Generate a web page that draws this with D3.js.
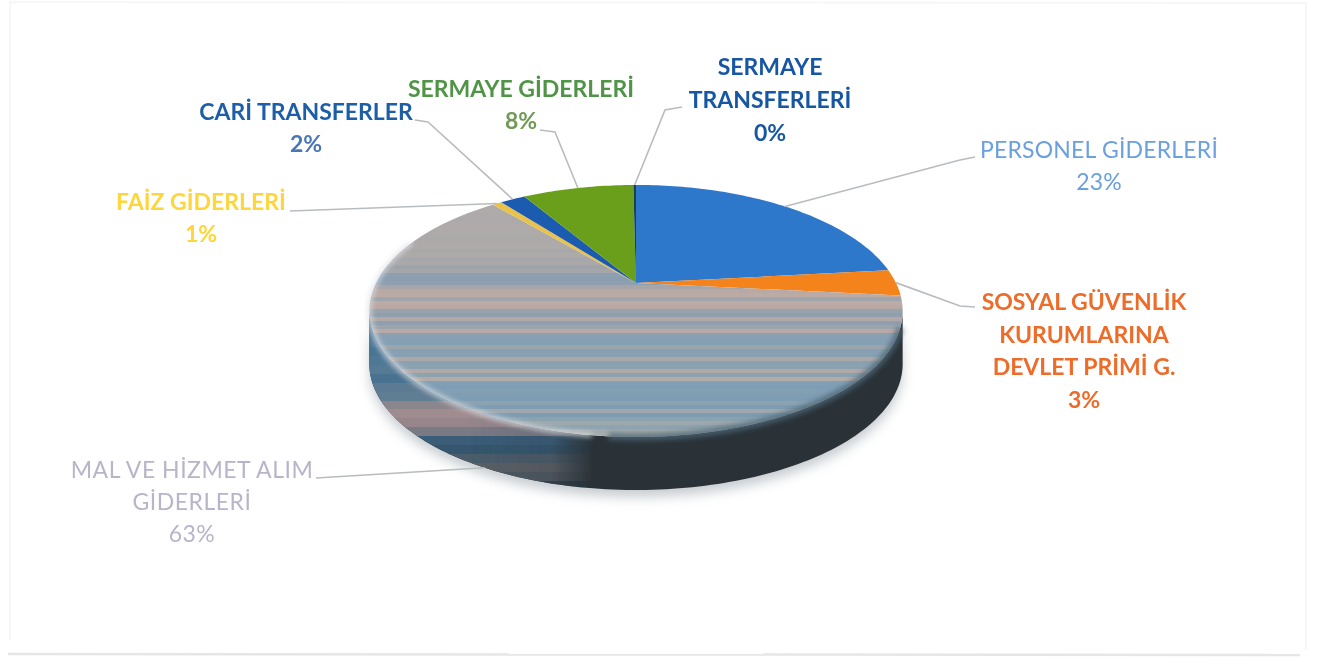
<!DOCTYPE html>
<html>
<head>
<meta charset="utf-8">
<script src="https://cdn.jsdelivr.net/npm/d3@7"></script>
<style>
  html, body { margin: 0; padding: 0; background: #fff; }
  text { font-family: Lato, "Open Sans", sans-serif; }
</style>
</head>
<body>
<div id="chart"></div>
<script>
  const categories = ['PERSONEL GİDERLERİ', 'SOSYAL GÜVENLİK|KURUMLARINA|DEVLET PRİMİ G.', 'MAL VE HİZMET ALIM|GİDERLERİ', 'FAİZ GİDERLERİ', 'CARİ TRANSFERLER', 'SERMAYE GİDERLERİ', 'SERMAYE|TRANSFERLERİ'];
  const values = [23.4, 3.4, 62.6, 0.7, 1.9, 8.4, 0.2];
  const sliceColors = ['#2f78cc', '#f5831a', 'url(#malTop)', '#e8c24a', '#1f5bb0', '#6a9f1e', '#163f5c'];
  const labelColors = ['#6a9fe0', '#ee6c2a', '#b7b5c9', '#fdd63a', '#1f5ea8', '#4f9447', '#1656a3'];
  const percentColors = ['#6a9fe0', '#ee6c2a', '#b7b5c9', '#fdd63a', '#4a77b5', '#6f9a55', '#1656a3'];
  const labelWeights = [400, 700, 400, 700, 700, 700, 700];
  const labelTracking = [0.2, 0, 0.5, 0, 0, 0, 0];

  // where each label block sits (centre x, first baseline y) and where its leader starts
  const labelLayout = [
    {x: 1099, y: 158, lead: [[975, 157], [960, 160]]},
    {x: 1084, y: 310, lead: [[975, 307], [960, 306]]},
    {x: 192, y: 478, lead: [[316, 478]], wall: true},
    {x: 201, y: 210, lead: [[290, 211]]},
    {x: 306, y: 120, lead: [[415, 120], [428, 122]]},
    {x: 521, y: 97, lead: [[540, 130], [555, 132]]},
    {x: 770, y: 75, lead: [[682, 107], [665, 110]]}
  ];

  // stripes of the scanned grey slice, top to bottom, about 4px each
  const stripeColors = [
    '#aeaaaa', '#aeaaaa', '#b0abaa', '#aeaaaa', '#aca9aa', '#aeaaaa', '#b0abaa', '#aeaaaa', '#aca9aa', '#aeaaaa', '#b0abaa',
    '#aeaaaa', '#adaaaa', '#aca9aa', '#afaaaa', '#aeaaaa', '#a9a8a9', '#aeaaaa', '#a6a7aa', '#aaa8a9', '#9fa4ab', '#a5a6aa',
    '#8d9fb0', '#8b9eb0', '#8d9fb0', '#a8a5a8', '#b9a9a6', '#bcaaa5', '#9fa5ab', '#bcaaa5', '#b9a9a6', '#98a2ac', '#8f9fae',
    '#b3a8a8', '#8ea0af', '#9da4ab', '#b9a9a6', '#8aa0b2', '#87a0b4', '#86a0b3', '#9ba5ad', '#88a0b2', '#87a0b3', '#aba8aa',
    '#8aa1b2', '#8ca2b1', '#b0a9a8', '#8ca2b1', '#b4aaa7', '#82a0b5', '#7f9eb5', '#829fb4', '#7f9db3', '#7e9cb3', '#8ba2b0',
    '#7e9cb2', '#9ea8ae', '#7e9cb1', '#8ba2af', '#9ca8ad', '#8ea4af', '#a2abad', '#a6acad'
  ];
  // bands of the left part of the wall, top to bottom
  const wallBands = ['#4f7a98', '#4a7593', '#50799a', '#4a7593', '#4f7895', '#557a94', '#4a7290', '#5b7a92', '#5f7d93', '#8b858c', '#a08b8e', '#96868c', '#7a7a85', '#3a5d78', '#34566e', '#4b5c6a', '#5a5f66', '#4f5862', '#33414c'];
  const wallFade = [[0, 1], [0.18, 1], [0.34, 0.85], [0.42, 0]];

  const width = 1318;
  const height = 659;
  const apexX = 636;
  const apexY = 283;
  const depth = 53;
  const spread = 260;
  const tilt = 119.8;
  const persp = 0.222;

  let svg = d3.select('#chart')
  .append('svg')
  .attr('width', width)
  .attr('height', height)
  .style('display', 'block');

  let defs = svg.append('defs');

  defs.append('filter').attr('id', 'soft').append('feGaussianBlur').attr('stdDeviation', 0.7);
  defs.append('filter').attr('id', 'textSoft').append('feGaussianBlur').attr('stdDeviation', 0.35);
  defs.append('filter').attr('id', 'shadow')
  .attr('x', '-10%').attr('y', '-10%').attr('width', '120%').attr('height', '130%')
  .append('feGaussianBlur').attr('stdDeviation', 6);
  defs.append('filter').attr('id', 'bevel')
  .attr('x', '-10%').attr('y', '-20%').attr('width', '120%').attr('height', '140%')
  .append('feGaussianBlur').attr('stdDeviation', 2.4);

  function stripes(id, colors, x1, y1, x2, y2){
    let grad = defs.append('linearGradient')
    .attr('id', id)
    .attr('gradientUnits', 'userSpaceOnUse')
    .attr('x1', x1).attr('y1', y1).attr('x2', x2).attr('y2', y2);
    colors.forEach((c, i) => {
      grad.append('stop').attr('offset', i / colors.length).attr('stop-color', c);
      grad.append('stop').attr('offset', (i + 1) / colors.length).attr('stop-color', c);
    });
  }

  stripes('malTop', stripeColors, 0, 185, 0, 437);
  stripes('wallBand', wallBands, 0, 320, 0, 490);

  let fadeGrad = defs.append('linearGradient')
  .attr('id', 'wallFadeGrad')
  .attr('gradientUnits', 'userSpaceOnUse')
  .attr('x1', 372).attr('y1', 0).attr('x2', 902).attr('y2', 0);
  wallFade.forEach((d) => {
    fadeGrad.append('stop').attr('offset', d[0]).attr('stop-color', '#fff').attr('stop-opacity', d[1]);
  });
  defs.append('mask').attr('id', 'wallMask')
  .attr('maskUnits', 'userSpaceOnUse')
  .attr('x', 0).attr('y', 0).attr('width', width).attr('height', height)
  .append('rect')
  .attr('width', width).attr('height', height)
  .attr('fill', 'url(#wallFadeGrad)');

  // faint edge of the scanned page
  let frame = d3.path();
  frame.moveTo(10, 640);
  frame.lineTo(10, 2);
  frame.lineTo(1306, 3);
  frame.lineTo(1306, 650);
  svg.append('path').attr('d', frame.toString()).attr('fill', 'none').attr('stroke', '#f7f7f7').attr('stroke-width', 2);
  svg.append('path').attr('d', 'M8,654L1300,655').attr('fill', 'none').attr('stroke', '#e6e6e6').attr('stroke-width', 2.5);

  // disc with a perspective: far edge squeezed, near edge stretched
  function project(angle, r){
    let u = Math.sin(angle) * r;
    let v = -Math.cos(angle) * r;
    let w = 1 - persp * v;
    return [apexX + spread * u / w, apexY + tilt * v / w];
  }

  function rim(a0, a1){
    let n = Math.max(2, Math.ceil(Math.abs(a1 - a0) / 0.02));
    return d3.range(n + 1).map((i) => project(a0 + (a1 - a0) * i / n, 1));
  }

  let line = d3.line();
  let pie = d3.pie().sort(null).value((d) => d);
  let arcs = pie(values);

  // lower edge of the disc dropped by the wall depth
  let outline = rim(0, 2 * Math.PI);
  let rightIdx = d3.maxIndex(outline, (p) => p[0]);
  let leftIdx = d3.minIndex(outline, (p) => p[0]);
  let frontEdge = outline.slice(rightIdx, leftIdx + 1);
  let wallPts = frontEdge.concat(frontEdge.slice().reverse().map((p) => [p[0], p[1] + depth]));

  svg.append('path')
  .attr('d', line(wallPts) + 'Z')
  .attr('transform', 'translate(0,7)')
  .attr('fill', '#9aa3aa')
  .attr('opacity', 0.55)
  .attr('filter', 'url(#shadow)');

  let pieGroup = svg.append('g').attr('filter', 'url(#soft)');

  pieGroup.append('path')
  .attr('d', line(wallPts) + 'Z')
  .attr('fill', '#2a3137');

  pieGroup.append('path')
  .attr('d', line(wallPts) + 'Z')
  .attr('fill', 'url(#wallBand)')
  .attr('mask', 'url(#wallMask)');

  pieGroup.selectAll('.slice')
  .data(arcs)
  .enter().append('path')
  .attr('class', 'slice')
  .attr('d', (d) => line([[apexX, apexY]].concat(rim(d.startAngle, d.endAngle))) + 'Z')
  .attr('fill', (d, i) => sliceColors[i]);

  let malArc = arcs[2];

  // soft slate shoulder between the near rim and the dark wall
  svg.append('path')
  .attr('d', line(rim(malArc.startAngle + 0.25, malArc.startAngle + 1.55)))
  .attr('fill', 'none')
  .attr('stroke', '#4d6675')
  .attr('stroke-width', 7)
  .attr('opacity', 0.8)
  .attr('filter', 'url(#bevel)');

  // light bevel along the near rim of the big slice
  svg.append('path')
  .attr('d', line(rim(malArc.startAngle + 1.6, malArc.endAngle - 0.5)))
  .attr('fill', 'none')
  .attr('stroke', '#dde1e6')
  .attr('stroke-width', 4)
  .attr('opacity', 0.85)
  .attr('filter', 'url(#bevel)');

  // leaders run from the label to the rim point at the slice's middle angle
  let leaders = svg.append('g').attr('filter', 'url(#textSoft)');
  leaders.selectAll('path')
  .data(arcs)
  .enter().append('path')
  .attr('d', (d, i) => {
    let mid = (d.startAngle + d.endAngle) / 2;
    let p = project(mid, 1);
    if (labelLayout[i].wall) p = [p[0], p[1] + depth];
    return line(labelLayout[i].lead.concat([p]));
  })
  .attr('fill', 'none')
  .attr('stroke', '#b9bcbf')
  .attr('stroke-width', 1.6);

  let labels = svg.append('g').attr('filter', 'url(#textSoft)');
  categories.forEach((name, i) => {
    let rows = name.split('|');
    let spacing = i === 1 ? 32.5 : (i === 6 ? 33 : 32);
    let block = labels.append('text')
    .attr('text-anchor', 'middle')
    .attr('font-size', 23)
    .attr('font-weight', labelWeights[i])
    .attr('letter-spacing', labelTracking[i])
    .attr('fill', labelColors[i]);
    rows.forEach((row, r) => {
      block.append('tspan')
      .attr('x', labelLayout[i].x)
      .attr('y', labelLayout[i].y + r * spacing)
      .text(row);
    });
    block.append('tspan')
    .attr('x', labelLayout[i].x)
    .attr('y', labelLayout[i].y + rows.length * spacing)
    .attr('fill', percentColors[i])
    .text(d3.format('.0f')(values[i]) + '%');
  });
</script>
</body>
</html>
